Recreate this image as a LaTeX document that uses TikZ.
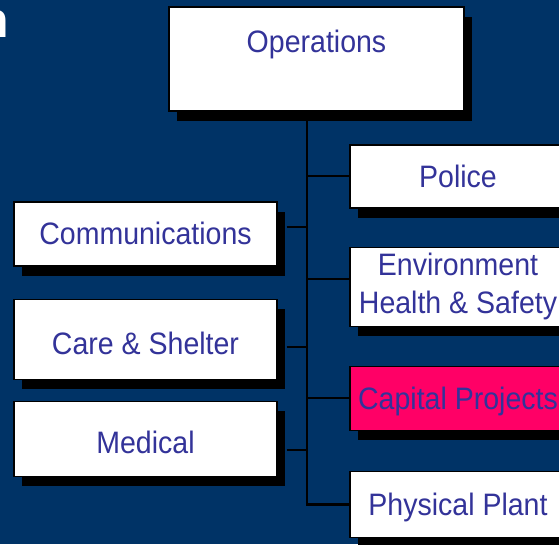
\documentclass[tikz,border=0pt]{standalone}
\usepackage{fontspec}
\setmainfont{Liberation Sans}
\newfontfamily\boxfont[FakeStretch=0.92]{Liberation Sans}
\usepackage{tikz}
\usetikzlibrary{positioning,shadows}
\definecolor{navy}{RGB}{0,51,102}
\definecolor{ink}{RGB}{51,51,153}
\definecolor{hot}{RGB}{255,0,102}

\begin{document}
\begin{tikzpicture}[x=1pt,y=1pt,
  unit node/.style={rectangle,draw=black,line width=1.2pt,fill=white,text=ink,
    font=\boxfont\fontsize{31}{38}\selectfont,inner sep=0pt,
    drop shadow={shadow xshift=8pt,shadow yshift=-10pt,fill=black,opacity=1}},
  capline/.style={text height=22pt,text depth=0pt},
  left node/.style={unit node,capline,minimum width=263pt},
  right node/.style={unit node,minimum width=216pt},
  link/.style={draw=black,line width=2pt}]
    \useasboundingbox (0,0) rectangle (559,544);
    \fill[navy] (0,0) rectangle (559,544);
    % cut-off title letter
    \node[anchor=base east,inner sep=0pt,text=white,
      font=\bfseries\fontsize{50}{60}\selectfont] (title) at (9,506) {n};

    \node[unit node,minimum width=295pt,minimum height=104pt,
      text height=22pt,text depth=34pt] (ops) at (316.5,485) {Operations};

    \node[right node,capline,minimum height=63pt] (police) at (458,367.5) {Police};
    \node[right node,minimum height=79pt,align=center,below=38pt of police] (env)
      {Environment\\Health \& Safety};
    \node[right node,capline,minimum height=64pt,fill=hot,below=39pt of env] (capital)
      {Capital Projects};
    \node[right node,capline,minimum height=66pt,below=40pt of capital] (plant)
      {Physical Plant};

    \node[left node,minimum height=64pt] (comm) at (145.5,310) {Communications};
    \node[left node,minimum height=80pt,text height=30pt,below=32pt of comm] (care)
      {Care \& Shelter};
    \node[left node,minimum height=75pt,text height=30pt,below=21pt of care] (medical)
      {Medical};

    % tree lines
    \coordinate (spine) at (307,433);
    \coordinate (envlink) at ([yshift=7.5pt]env.west);
    \coordinate (commlink) at ([xshift=9pt,yshift=7pt]comm.east);
    \coordinate (carelink) at ([xshift=9pt,yshift=-8pt]care.east);
    \coordinate (medlink) at ([xshift=9pt,yshift=-11.5pt]medical.east);
    \draw[link,line width=2.5pt] (spine) |- (plant.west);
    \draw[link] (police.west -| spine) -- (police.west);
    \draw[link] (envlink -| spine) -- (envlink);
    \draw[link] (capital.west -| spine) -- (capital.west);
    \draw[link] (commlink) -- (commlink -| spine);
    \draw[link] (carelink) -- (carelink -| spine);
    \draw[link] (medlink) -- (medlink -| spine);
\end{tikzpicture}
\end{document}
